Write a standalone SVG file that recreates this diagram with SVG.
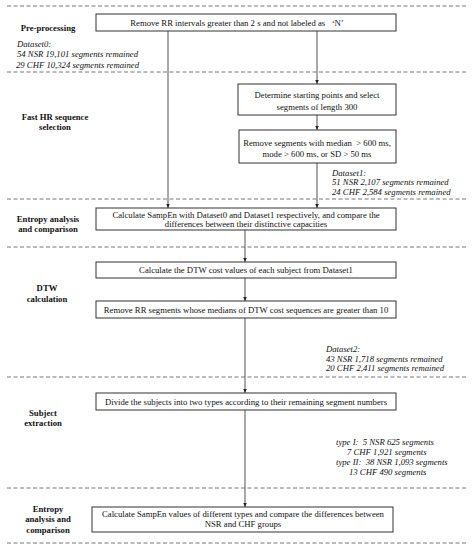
<svg xmlns="http://www.w3.org/2000/svg" width="475" height="550" viewBox="0 0 475 550">
<style>
text{font-family:"Liberation Serif","Times New Roman",serif;font-size:8.7px;fill:#111;white-space:pre}
.c{text-anchor:middle}
.b{font-weight:bold;text-anchor:middle}
.i{font-style:italic}
.box{fill:#fff;stroke:#333;stroke-width:1}
.dash{stroke:#777;stroke-width:1;stroke-dasharray:4,2.5;fill:none}
.ln{stroke:#555;stroke-width:1;fill:none}
</style>
<defs>
<marker id="ah" markerWidth="5" markerHeight="5" refX="4.5" refY="2.5" orient="auto" markerUnits="userSpaceOnUse">
<path d="M0,0.5 L4.5,2.5 L0,4.5 Z" fill="#222"/>
</marker>
</defs>
<rect width="475" height="550" fill="#fff"/>
<g id="separators">
<line class="dash" x1="7" y1="6" x2="467" y2="6"/>
<line class="dash" x1="7" y1="72" x2="467" y2="72"/>
<line class="dash" x1="7" y1="199" x2="467" y2="199"/>
<line class="dash" x1="7" y1="247" x2="467" y2="247"/>
<line class="dash" x1="7" y1="377" x2="467" y2="377"/>
<line class="dash" x1="7" y1="488" x2="467" y2="488"/>
<line class="dash" x1="7" y1="543" x2="467" y2="543"/>
</g>
<g id="connectors">
<line class="ln" x1="168" y1="31" x2="168" y2="208" marker-end="url(#ah)"/>
<line class="ln" x1="317" y1="31" x2="317" y2="84" marker-end="url(#ah)"/>
<line class="ln" x1="317" y1="115" x2="317" y2="130" marker-end="url(#ah)"/>
<line class="ln" x1="317" y1="163" x2="317" y2="208" marker-end="url(#ah)"/>
<line class="ln" x1="245" y1="230" x2="245" y2="262" marker-end="url(#ah)"/>
<line class="ln" x1="245" y1="278" x2="245" y2="301" marker-end="url(#ah)"/>
<line class="ln" x1="245" y1="318" x2="245" y2="393" marker-end="url(#ah)"/>
<line class="ln" x1="245" y1="410" x2="245" y2="507" marker-end="url(#ah)"/>
</g>
<g id="labels">
<text class="b" x="48" y="31">Pre-processing</text>
<text class="b" x="55" y="120">Fast HR sequence</text>
<text class="b" x="55" y="130">selection</text>
<text class="b" x="48" y="222">Entropy analysis</text>
<text class="b" x="48" y="232">and comparison</text>
<text class="b" x="47" y="291">DTW</text>
<text class="b" x="47" y="302">calculation</text>
<text class="b" x="43" y="416">Subject</text>
<text class="b" x="43" y="426">extraction</text>
<text class="b" x="48" y="512">Entropy</text>
<text class="b" x="48" y="522">analysis and</text>
<text class="b" x="48" y="533">comparison</text>
</g>
<g id="n1">
<rect class="box" x="96" y="14" width="300" height="17"/>
<text class="c" x="237" y="26">Remove RR intervals greater than 2 s and not labeled as   ‘N’</text>
</g>
<g id="dataset0">
<text class="i" x="17" y="47">Dataset0:</text>
<text class="i" x="17" y="57">54 NSR 19,101 segments remained</text>
<text class="i" x="16" y="68">29 CHF 10,324 segments remained</text>
</g>
<g id="n2">
<rect class="box" x="238" y="84" width="158" height="31"/>
<text class="c" x="317" y="98">Determine starting points and select</text>
<text class="c" x="317" y="110">segments of length 300</text>
</g>
<g id="n3">
<rect class="box" x="239" y="130" width="157" height="33"/>
<text class="c" x="317" y="146">Remove segments with median  &gt; 600 ms,</text>
<text class="c" x="317" y="157">mode &gt; 600 ms, or SD &gt; 50 ms</text>
</g>
<g id="dataset1">
<text class="i" x="332" y="176">Dataset1:</text>
<text class="i" x="332" y="185">51 NSR 2,107 segments remained</text>
<text class="i" x="332" y="195">24 CHF 2,584 segments remained</text>
</g>
<g id="n4">
<rect class="box" x="96" y="208" width="300" height="22"/>
<text class="c" x="246" y="217.5">Calculate SampEn with Dataset0 and Dataset1 respectively, and compare the</text>
<text class="c" x="246" y="227">differences between their distinctive capacities</text>
</g>
<g id="n5">
<rect class="box" x="96" y="262" width="300" height="16"/>
<text class="c" x="246" y="273">Calculate the DTW cost values of each subject from Dataset1</text>
</g>
<g id="n6">
<rect class="box" x="96" y="301" width="300" height="17"/>
<text class="c" x="246" y="313">Remove RR segments whose medians of DTW cost sequences are greater than 10</text>
</g>
<g id="dataset2">
<text class="i" x="326" y="352">Dataset2:</text>
<text class="i" x="326" y="362">43 NSR 1,718 segments remained</text>
<text class="i" x="326" y="371">20 CHF 2,411 segments remained</text>
</g>
<g id="n7">
<rect class="box" x="96" y="393" width="300" height="17"/>
<text class="c" x="246" y="405">Divide the subjects into two types according to their remaining segment numbers</text>
</g>
<g id="types">
<text class="i" x="336" y="445">type I:  5 NSR 625 segments</text>
<text class="i" x="347" y="455">7 CHF 1,921 segments</text>
<text class="i" x="336" y="465">type II:  38 NSR 1,093 segments</text>
<text class="i" x="349" y="475">13 CHF 490 segments</text>
</g>
<g id="n8">
<rect class="box" x="92" y="507" width="301" height="25"/>
<text class="c" x="243" y="517">Calculate SampEn values of different types and compare the differences between</text>
<text class="c" x="243" y="527">NSR and CHF groups</text>
</g>
</svg>
